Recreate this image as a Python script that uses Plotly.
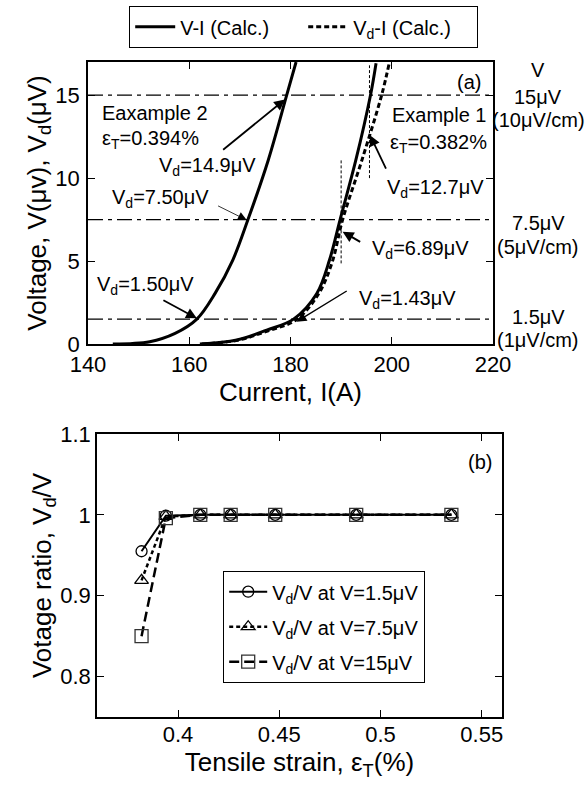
import plotly.graph_objects as go

FONT = "Arial, Liberation Sans, sans-serif"
W, H = 585, 787

# ---------------- Panel (a) data ----------------
# Example 2 (eps_T = 0.394 %): V-I curve
ex2_current = [144.9, 152.2, 157.2, 161.5, 165.1, 168.6, 171.6, 175.6, 179.25, 181.1]
ex2_voltage = [0.0, 0.14, 0.64, 1.5, 3.05, 5.06, 7.5, 11.08, 15.0, 17.0]
# Example 1 (eps_T = 0.382 %): V-I curve
ex1_current = [162.1, 169.4, 175.3, 180.6, 185.2, 187.7, 189.8, 192.9, 195.8, 196.9]
ex1_voltage = [0.0, 0.24, 0.84, 1.5, 3.05, 5.06, 7.5, 11.08, 15.0, 16.93]
# Example 1: Vd-I curve
ex1d_current = [162.5, 169.6, 175.6, 181.1, 185.5, 188.2, 190.3, 194.1, 198.0, 199.5]
ex1d_voltage = [0.0, 0.23, 0.8, 1.45, 3.0, 4.9, 7.5, 11.08, 15.0, 16.93]

# criterion levels (uV)
v_levels = [1.5, 7.5, 15.0]
level_labels = [["1.5μV", "(1μV/cm)"], ["7.5μV", "(5μV/cm)"], ["15μV", "(10μV/cm)"]]

# dotted marker lines at critical currents of example 1
mark_current = [190.0, 195.6]
mark_v_low = [4.86, 10.0]
mark_v_high = [11.08, 16.8]

# ---------------- Panel (b) data ----------------
strain = [0.382, 0.394, 0.411, 0.426, 0.448, 0.488, 0.535]
ratio_1p5 = [0.955, 0.999, 1.0, 1.0, 1.0, 1.0, 1.0]
ratio_7p5 = [0.919, 0.998, 1.0, 1.0, 1.0, 1.0, 1.0]
ratio_15 = [0.850, 0.996, 1.0, 1.0, 1.0, 1.0, 1.0]

fig = go.Figure()

# ---- panel (a) traces ----
fig.add_trace(go.Scatter(x=ex1_current, y=ex1_voltage, mode="lines", name="V-I (Calc.)",
                         line=dict(color="black", width=3, shape="spline"),
                         xaxis="x", yaxis="y", legend="legend"))
fig.add_trace(go.Scatter(x=ex2_current, y=ex2_voltage, mode="lines", name="V-I (Calc.)",
                         line=dict(color="black", width=3, shape="spline"),
                         xaxis="x", yaxis="y", showlegend=False))
fig.add_trace(go.Scatter(x=ex1d_current, y=ex1d_voltage, mode="lines", name="V<sub>d</sub>-I (Calc.)",
                         line=dict(color="black", width=3, dash="5px,3px", shape="spline"),
                         xaxis="x", yaxis="y", legend="legend"))

# ---- panel (b) traces ----
fig.add_trace(go.Scatter(x=strain, y=ratio_1p5, mode="lines+markers", name="V<sub>d</sub>/V at V=1.5μV",
                         line=dict(color="black", width=2),
                         marker=dict(symbol="circle-open", size=11, color="black", line=dict(width=1.3)),
                         xaxis="x2", yaxis="y2", legend="legend2", legendgroup="g1"))
fig.add_trace(go.Scatter(x=strain, y=ratio_7p5, mode="lines+markers", name="V<sub>d</sub>/V at V=7.5μV",
                         line=dict(color="black", width=2.5, dash="4px,3px"),
                         marker=dict(symbol="triangle-up-open", size=12, color="black", line=dict(width=1.3)),
                         xaxis="x2", yaxis="y2", legend="legend2", legendgroup="g2"))
fig.add_trace(go.Scatter(x=strain, y=ratio_15, mode="lines+markers", name="V<sub>d</sub>/V at V=15μV",
                         line=dict(color="black", width=2.5, dash="10px,5px"),
                         marker=dict(symbol="square-open", size=13, color="#333", line=dict(width=1.3)),
                         xaxis="x2", yaxis="y2", legend="legend2", legendgroup="g3"))

shapes = []
for lv in v_levels:
    shapes.append(dict(type="line", xref="x domain", yref="y", x0=0, x1=1, y0=lv, y1=lv,
                       line=dict(color="black", width=1.2, dash="15px,5px,4px,5px")))
for xc, lo, hi in zip(mark_current, mark_v_low, mark_v_high):
    shapes.append(dict(type="line", xref="x", yref="y", x0=xc, x1=xc, y0=lo, y1=hi,
                       line=dict(color="black", width=1, dash="3px,2px")))

ann = []
def txt(x, y, s, xanchor="left", xref="x", yref="y", size=20):
    ann.append(dict(x=x, y=y, xref=xref, yref=yref, text=s, showarrow=False,
                    xanchor=xanchor, yanchor="middle", font=dict(size=size, family=FONT, color="black")))

def arrow(ax, ay, x, y, w=1.6, size=1.3):
    ann.append(dict(x=x, y=y, ax=ax, ay=ay, xref="x", yref="y", axref="x", ayref="y",
                    text="", showarrow=True, arrowhead=2, arrowsize=size, arrowwidth=w,
                    arrowcolor="black"))

txt(142.4, 13.9, "Eaxample 2")
txt(142.4, 12.3, "ε<sub>T</sub>=0.394%")
txt(153.6, 10.7, "V<sub>d</sub>=14.9μV")
txt(144.3, 8.75, "V<sub>d</sub>=7.50μV")
txt(141.4, 3.55, "V<sub>d</sub>=1.50μV")
txt(199.7, 13.8, "Example 1")
txt(199.3, 12.1, "ε<sub>T</sub>=0.382%")
txt(198.7, 9.35, "V<sub>d</sub>=12.7μV")
txt(195.7, 5.7, "V<sub>d</sub>=6.89μV")
txt(193.1, 2.7, "V<sub>d</sub>=1.43μV")
txt(218.0, 15.8, "(a)", xanchor="right")

arrow(166.4, 11.64, 178.9, 14.74, w=1.8, size=1.2)
arrow(165.4, 8.37, 171.35, 7.47, w=0.8, size=2.2)
arrow(154.6, 2.69, 161.5, 1.55, w=1.8, size=1.2)
arrow(199.0, 10.48, 195.7, 12.59, w=1.8, size=1.2)
arrow(194.06, 6.1, 190.3, 6.77, w=2.0, size=1.1)
arrow(191.4, 3.25, 181.2, 1.34, w=1.4, size=1.4)

# right-side criterion labels (paper coords)
def ptxt(px, py, s):
    txt(px / W, 1 - py / H, s, xanchor="center", xref="paper", yref="paper", size=20)

ptxt(538, 70, "V")
ptxt(538, 97, level_labels[2][0])
ptxt(538, 120, level_labels[2][1])
ptxt(538, 223, level_labels[1][0])
ptxt(538, 247, level_labels[1][1])
ptxt(538, 317, level_labels[0][0])
ptxt(538, 340, level_labels[0][1])

# panel (b) label
ann.append(dict(x=0.98, y=0.9, xref="x2 domain", yref="y2 domain", text="(b)", showarrow=False,
                xanchor="right", yanchor="middle", font=dict(size=20, family=FONT, color="black")))

axis_common = dict(showline=True, linecolor="black", linewidth=1.5, mirror="ticks",
                   ticks="inside", ticklen=7, tickwidth=1.3, tickcolor="black",
                   showgrid=False, zeroline=False, automargin=False,
                   tickfont=dict(size=22, family=FONT, color="black"))

fig.update_layout(
    width=W, height=H, margin=dict(l=0, r=0, t=0, b=0),
    paper_bgcolor="white", plot_bgcolor="white",
    font=dict(family=FONT, color="black"),
    xaxis=dict(domain=[88 / W, 493 / W], anchor="y", range=[140, 220], tickvals=[140, 160, 180, 200, 220],
               title=dict(text="Current, I(A)", font=dict(size=26, family=FONT), standoff=0), **axis_common),
    yaxis=dict(domain=[1 - 344 / H, 1 - 62 / H], anchor="x", range=[0, 17], tickvals=[0, 5, 10, 15],
               ticklabelstandoff=2,
               title=dict(text="Voltage, V(μv), V<sub>d</sub>(μV)", font=dict(size=26, family=FONT), standoff=0),
               **axis_common),
    xaxis2=dict(domain=[97 / W, 502 / W], anchor="y2", range=[0.36, 0.56], tickvals=[0.4, 0.45, 0.5, 0.55],
                ticktext=["0.4", "0.45", "0.5", "0.55"], ticklabelstandoff=-3,
                title=dict(text="Tensile strain, ε<sub>T</sub>(%)", font=dict(size=26, family=FONT), standoff=0),
                **axis_common),
    yaxis2=dict(domain=[1 - 717 / H, 1 - 434 / H], anchor="x2", range=[0.75, 1.1], tickvals=[0.8, 0.9, 1.0, 1.1],
                ticktext=["0.8", "0.9", "1", "1.1"],
                title=dict(text="Votage ratio, V<sub>d</sub>/V", font=dict(size=26, family=FONT), standoff=0),
                **axis_common),
    legend=dict(orientation="h", x=129 / W, y=1 - 6 / H, xanchor="left", yanchor="top",
                bordercolor="black", borderwidth=1.2, bgcolor="white", itemwidth=40, entrywidth=118,
                font=dict(size=20, family=FONT, color="black")),
    legend2=dict(orientation="v", x=223 / W, y=1 - 571 / H, xanchor="left", yanchor="top",
                 bordercolor="black", borderwidth=1.2, bgcolor="white", itemwidth=38,
                 traceorder="grouped", tracegroupgap=6,
                 font=dict(size=20, family=FONT, color="black")),
    shapes=shapes, annotations=ann, showlegend=True,
)

fig.write_html("out.html", config={"displayModeBar": False},
               post_script="document.body.style.margin='0';document.body.style.overflow='hidden';")
